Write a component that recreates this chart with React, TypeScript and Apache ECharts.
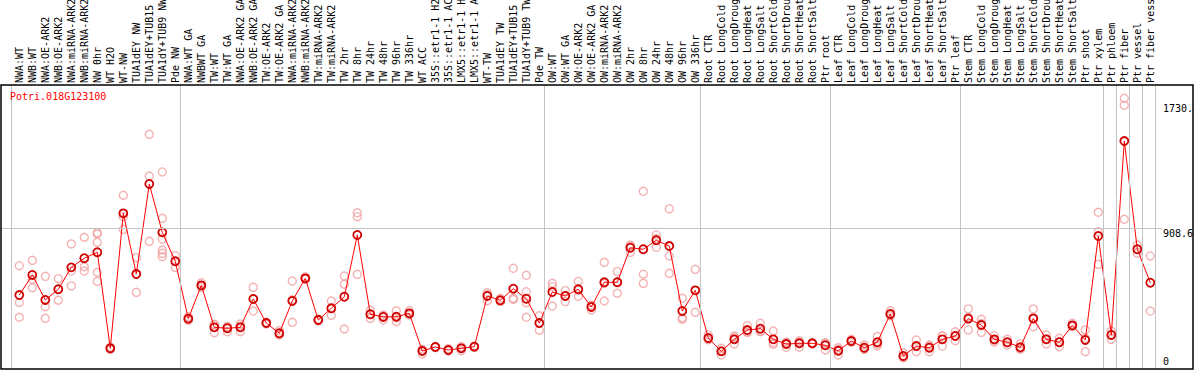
import { useEffect, useRef } from "react";
import * as echarts from "echarts";

const geneId = "Potri.018G123100";

const categories = [
  "NWA:WT", "NWB:WT", "NWA:OE-ARK2", "NWB:OE-ARK2", "NWA:miRNA-ARK2", "NWB:miRNA-ARK2",
  "NW 0hr", "WT H2O", "WT-NW", "TUA1dEY NW", "TUA1dEY+TUB15 NW", "TUA1dY+TUB9 NW", "Pde NW",
  "NWA:WT GA", "NWBWT GA", "TW:WT", "TW:WT GA", "NWA:OE-ARK2 GA", "NWB:OE-ARK2 GA",
  "TW:OE-ARK2", "TW:OE-ARK2 GA", "NWA:miRNA-ARK2 GA", "NWB:miRNA-ARK2 GA", "TW:miRNA-ARK2",
  "TW:miRNA-ARK2 GA", "TW 2hr", "TW 8hr", "TW 24hr", "TW 48hr", "TW 96hr", "TW 336hr",
  "WT ACC", "35S::etr1-1 H2O", "35S::etr1-1 ACC", "LMX5::etr1-1 H2O", "LMX5::etr1-1 ACC",
  "WT-TW", "TUA1dEY TW", "TUA1dEY+TUB15 TW", "TUA1dY+TUB9 TW", "Pde TW",
  "OW:WT", "OW:WT GA", "OW:OE-ARK2", "OW:OE-ARK2 GA", "OW:miRNA-ARK2", "OW:miRNA-ARK2 GA",
  "OW 2hr", "OW 8hr", "OW 24hr", "OW 48hr", "OW 96hr", "OW 336hr",
  "Root CTR", "Root LongCold", "Root LongDrought", "Root LongHeat", "Root LongSalt",
  "Root ShortCold", "Root ShortDrought", "Root ShortHeat", "Root ShortSalt", "Ptr root",
  "Leaf CTR", "Leaf LongCold", "Leaf LongDrought", "Leaf LongHeat", "Leaf LongSalt",
  "Leaf ShortCold", "Leaf ShortDrought", "Leaf ShortHeat", "Leaf ShortSalt", "Ptr leaf",
  "Stem CTR", "Stem LongCold", "Stem LongDrought", "Stem LongHeat", "Stem LongSalt",
  "Stem ShortCold", "Stem ShortDrought", "Stem ShortHeat", "Stem ShortSalt", "Ptr shoot",
  "Ptr xylem", "Ptr phloem", "Ptr fiber", "Ptr vessel", "Ptr fiber vessel",
];

const groupSizes = [13, 28, 12, 10, 10, 11, 1, 1, 1, 1];

const meanValues = [
  470, 602, 438, 508, 652, 712, 751, 120, 1007, 608, 1200, 882, 692,
  315, 534, 258, 252, 258, 444, 286, 219, 431, 580, 306, 383, 459, 865, 344, 326, 328, 350,
  102, 129, 109, 120, 131, 464, 436, 512, 446, 286,
  490, 464, 508, 392, 554, 554, 781, 771, 830, 792, 365, 501,
  188, 100, 179, 240, 249, 179, 148, 153, 153, 140,
  104, 168, 124, 160, 346, 70, 135, 124, 179, 201,
  315, 273, 179, 160, 127, 317, 179, 160, 271, 175, 858,
  208, 1482, 771, 551,
];

const replicateValues = [
  [663, 422, 324], [698, 574, 518], [593, 394, 317], [578, 508, 436], [806, 628, 530],
  [850, 656, 628], [880, 871, 817, 620, 560], [112, 128, 121], [1126, 985, 902],
  [716, 608, 488], [1526, 1252, 823], [1279, 974, 838, 766, 744, 722], [729, 652],
  [328, 304, 312], [551, 521, 530], [278, 223, 273], [262, 229, 264], [280, 229, 265],
  [521, 365, 446], [291, 280, 289], [236, 212, 208], [562, 291, 440], [575, 590, 575],
  [300, 312, 306], [431, 337, 381], [595, 541, 247], [1011, 985, 606], [372, 317, 342],
  [337, 306, 335], [367, 295, 322], [367, 344, 339], [111, 83, 113], [129, 125, 132],
  [118, 103, 106], [131, 104, 125], [131, 128, 134], [486, 433, 473], [449, 430, 428],
  [646, 449, 441], [600, 492, 420, 324], [334, 239, 287],
  [547, 525, 398], [499, 427, 466], [560, 462, 502], [372, 400, 403], [685, 431, 546],
  [624, 482, 556], [751, 795, 797], [1152, 607, 547], [865, 784, 841], [1036, 727, 613],
  [449, 321, 311], [639, 357],
  [208, 179, 177], [120, 76, 106], [201, 149, 189], [269, 225, 228], [285, 229, 233],
  [234, 147, 158], [127, 160, 159], [170, 127, 162], [155, 150, 154], [157, 109, 154],
  [124, 76, 113], [179, 160, 165], [142, 115, 115], [197, 135, 147], [367, 335, 335],
  [91, 58, 60], [175, 98, 133], [142, 98, 132], [203, 135, 200], [229, 170, 204],
  [379, 241, 325], [311, 225, 284], [203, 162, 173], [179, 142, 158], [149, 116, 116],
  [379, 262, 312], [208, 149, 182], [186, 131, 162], [285, 262, 268], [241, 98, 186],
  [1014, 886, 672],
  [234, 179, 210], [1763, 1717, 968], [799, 745], [727, 365],
];

const yTickValues = [0, 908.6, 1730.4];
const yTickLabels = ["0", "908.6", "1730.4"];
const gridLineValue = 908.6;

export default function App() {
  const ref = useRef<HTMLDivElement>(null);

  useEffect(() => {
    const chart = echarts.init(ref.current!, null, { renderer: "svg" });
    const font = "'DejaVu Sans Mono', 'Liberation Mono', monospace";
    const grey = "#c4c4c4";

    const boundaries: number[] = [-1 + 0.38];
    let acc = -1;
    groupSizes.forEach((s) => {
      acc += s;
      boundaries.push(acc + 0.38);
    });

    const catIdx = categories.map((_, i) => i);
    const meanData = meanValues.map((v, i) => [i, v]);
    const repData: number[][] = [];
    replicateValues.forEach((arr, i) => arr.forEach((v) => repData.push([i, v])));

    chart.setOption({
      animation: false,
      backgroundColor: "#ffffff",
      title: {
        text: geneId,
        left: 10,
        top: 91,
        padding: 0,
        textStyle: { color: "#ff0000", fontSize: 10, fontWeight: "normal", fontFamily: font },
      },
      grid: { left: 1, top: 85, width: 1161, height: 284, outerBoundsMode: "none", containLabel: false },
      xAxis: {
        type: "value",
        position: "top",
        min: -1.4077,
        max: 87.9,
        axisLine: { show: false },
        splitLine: { show: false },
        axisTick: {
          show: true,
          customValues: boundaries,
          length: 85,
          inside: false,
          lineStyle: { color: grey, width: 1 },
        },
        axisLabel: {
          show: true,
          customValues: catIdx,
          rotate: 90,
          margin: 2,
          showMinLabel: true,
          showMaxLabel: true,
          hideOverlap: false,
          formatter: (v: number) => categories[Math.round(v)] ?? "",
          color: "#000000",
          fontSize: 10,
          fontFamily: font,
        },
      },
      yAxis: {
        type: "value",
        position: "right",
        min: -15.8,
        max: 1850.4,
        axisLine: { show: false },
        axisTick: { show: false },
        splitLine: { show: false },
        axisLabel: {
          show: true,
          customValues: yTickValues,
          margin: 1,
          verticalAlign: "top",
          verticalAlignMinLabel: "bottom",
          showMinLabel: true,
          showMaxLabel: true,
          formatter: (v: number) => {
            const i = yTickValues.indexOf(v);
            return i >= 0 ? yTickLabels[i] : String(v);
          },
          color: "#000000",
          fontSize: 10,
          fontFamily: font,
        },
      },
      graphic: [
        {
          type: "rect",
          silent: true,
          z: 100,
          shape: { x: 1, y: 85, width: 1192, height: 284 },
          style: { fill: "none", stroke: "#000000", lineWidth: 1.5 },
        },
      ],
      series: [
        {
          type: "scatter",
          z: 1,
          data: repData,
          symbol: "circle",
          symbolSize: 8,
          silent: true,
          itemStyle: { color: "rgba(255,255,255,0)", borderColor: "#f0a0a0", borderWidth: 1.4 },
          markLine: {
            silent: true,
            symbol: ["none", "none"],
            label: { show: false },
            lineStyle: { color: grey, type: "solid", width: 1 },
            data: [
              ...boundaries.map((b) => ({ xAxis: b })),
              { yAxis: gridLineValue },
            ],
          },
        },
        {
          type: "line",
          z: 3,
          data: meanData,
          symbol: "circle",
          symbolSize: 8,
          showSymbol: true,
          silent: true,
          lineStyle: { color: "#ff0000", width: 1 },
          itemStyle: { color: "rgba(255,255,255,0)", borderColor: "#d00000", borderWidth: 1.8 },
        },
      ],
    });

    return () => chart.dispose();
  }, []);

  return (
    <div
      ref={ref}
      style={{ position: "fixed", left: 0, top: 0, width: 1194, height: 370 }}
    />
  );
}
